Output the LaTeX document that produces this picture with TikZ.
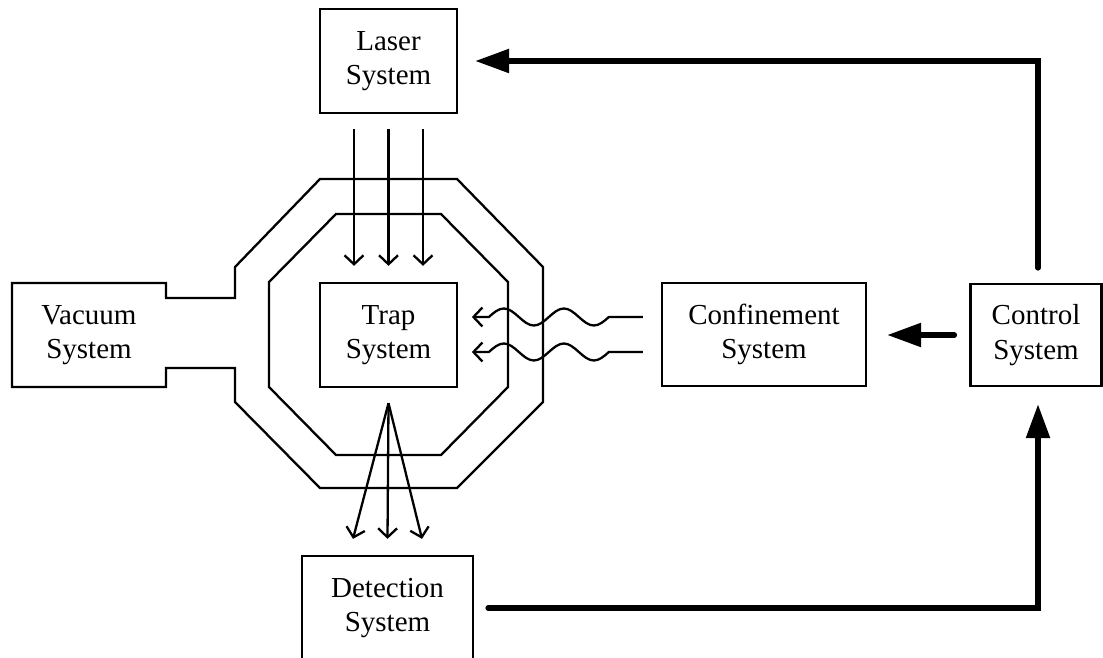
\documentclass[tikz,border=0pt]{standalone}
\usepackage{fontspec}
\setmainfont{Liberation Serif}
\usetikzlibrary{arrows.meta}
\tikzset{
  sysbox/.style={draw, line width=2.3pt, inner sep=0pt, align=center,
    font=\fontsize{29}{34.5}\selectfont},
  systext/.style={inner sep=0pt, align=center, font=\fontsize{29}{34.5}\selectfont},
  thinline/.style={line width=2.3pt, line join=miter},
  thinarr/.style={line width=2.3pt, -{Straight Barb[length=9pt,width=19pt]}},
  thickarr/.style={line width=5.5pt, line cap=round, line join=miter,
    -{Triangle[length=34pt,width=23pt]}},
}
\begin{document}
\begin{tikzpicture}[x=1pt,y=-1pt]
\useasboundingbox (0,0) rectangle (1103,658);
\clip (0,0) rectangle (1103,658);

% boxes
\node[sysbox, minimum width=137pt, minimum height=104pt] (laser) at (388.5,61) {Laser\\System};
\node[sysbox, minimum width=137pt, minimum height=104pt] (trap) at (388.5,335) {Trap\\System};
\node[sysbox, minimum width=171pt, minimum height=104pt] (det) at (387.5,608) {Detection\\System};
\node[sysbox, minimum width=204pt, minimum height=103pt] (conf) at (764,334.5) {Confinement\\System};
\node[sysbox, minimum width=131pt, minimum height=102pt] (ctrl) at (1036,335) {Control\\System};

% vacuum system with pipe and outer chamber
\draw[thinline] (12,283) -- (166,283) -- (166,298) -- (235,298) -- (235,267)
  -- (320,179) -- (457,179) -- (543,267) -- (543,402) -- (457,488)
  -- (320,488) -- (235,402) -- (235,368) -- (166,368) -- (166,387)
  -- (12,387) -- cycle;
\node[systext] (vac) at (89,335) {Vacuum\\System};

% inner chamber
\draw[thinline] (336,214) -- (441,214) -- (508,282) -- (508,387) -- (441,455)
  -- (336,455) -- (269,387) -- (269,282) -- cycle;

% laser beams
\foreach \dx in {-34.5,0,34.5}{
  \draw[thinarr, shorten <=15pt, shorten >=16pt]
    ([xshift=\dx pt]laser.south) -- ([xshift=\dx pt]trap.north);
}

% detection beams
\coordinate (apex) at ([yshift=-15pt]trap.south);
\foreach \dx in {-34.5,0,34.5}{
  \draw[thinarr] (apex) -- ([xshift=\dx pt, yshift=16pt]det.north);
}

% confinement fields (wavy)
\foreach \dy in {17.5,-17.5}{
  \draw[thinarr] ([xshift=-18pt, yshift=\dy pt]conf.west) -- ++(-34,0)
    sin ++(-15,8.5) cos ++(-15,-8.5) sin ++(-15,-8.5) cos ++(-15,8.5)
    sin ++(-15,8.5) cos ++(-15,-8.5) sin ++(-15,-8.5) cos ++(-15,8.5)
    -- ++(-17,0);
}

% control connections
\draw[thickarr, shorten <=15pt, shorten >=20pt] (ctrl.west) -- (conf.east |- ctrl.west);
\draw[thickarr] ([xshift=2pt, yshift=15pt]ctrl.north) |- ([xshift=17pt]laser.east);
\draw[thickarr] ([xshift=14pt]det.east) -| ([xshift=2pt, yshift=-17pt]ctrl.south);
\end{tikzpicture}
\end{document}
